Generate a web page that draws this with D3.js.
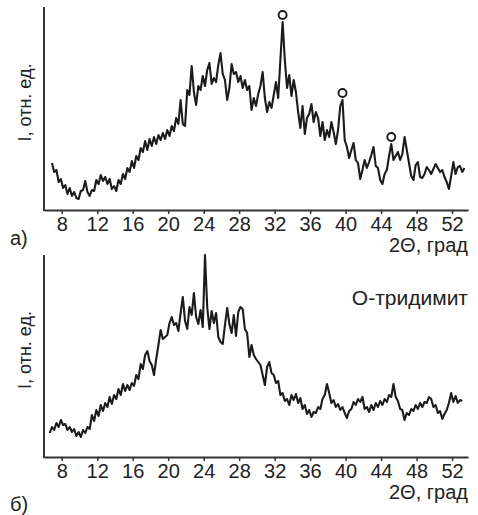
<!DOCTYPE html>
<html>
<head>
<meta charset="utf-8">
<script src="https://cdn.jsdelivr.net/npm/d3@7"></script>
<style>
    body { margin: 0; background: #fff; }
    svg text { font-family: "Liberation Sans", Arial, sans-serif; fill: #222; }
</style>
</head>
<body>
<div class="chart"></div>
<script>
// XRD patterns, step 0.25 deg 2Theta, intensity in arbitrary units
var step = 0.25;
var startA = 6.9, startB = 6.65;

var intensityA = [
    47, 38, 40, 28, 31, 22, 25, 16, 22, 14, 18, 12,
    11, 19, 20, 29, 18, 14, 20, 19, 30, 26, 35, 29,
    33, 26, 31, 21, 24, 19, 30, 26, 36, 31, 42, 38,
    49, 42, 54, 50, 62, 58, 69, 60, 71, 64, 73, 66,
    75, 70, 77, 71, 80, 74, 84, 79, 92, 86, 110, 86,
    84, 120, 115, 144, 118, 105, 124, 120, 134, 124, 140, 147,
    126, 132, 128, 145, 157, 136, 130, 110, 122, 146, 136, 138,
    128, 134, 122, 130, 120, 124, 100, 112, 104, 116, 124, 138,
    112, 98, 108, 102, 115, 128, 112, 150, 188, 150, 122, 135,
    114, 130, 118, 98, 82, 104, 76, 92, 96, 106, 88, 98,
    92, 74, 88, 70, 80, 73, 88, 78, 66, 80, 104, 110,
    70, 63, 52, 60, 67, 50, 47, 31, 40, 50, 42, 48,
    55, 63, 44, 42, 30, 26, 36, 40, 54, 66, 50, 54,
    58, 50, 56, 73, 60, 47, 34, 30, 45, 48, 33, 32,
    36, 43, 40, 36, 41, 46, 42, 38, 40, 33, 28, 21,
    34, 48, 36, 43, 44, 38, 42
];

var intensityB = [
    24, 30, 27, 34, 30, 37, 32, 33, 27, 30, 25, 28,
    21, 25, 20, 27, 24, 30, 28, 42, 36, 47, 41, 52,
    46, 54, 50, 60, 53, 62, 58, 68, 62, 73, 66, 72,
    67, 74, 71, 82, 78, 93, 88, 102, 106, 96, 92, 82,
    98, 112, 127, 118, 120, 122, 134, 140, 132, 134, 126, 144,
    160, 136, 128, 150, 142, 164, 140, 133, 147, 130, 202, 150,
    128, 146, 134, 144, 120, 115, 113, 132, 149, 133, 124, 142,
    121, 145, 150, 148, 128, 124, 100, 112, 102, 98, 95, 92,
    82, 72, 90, 95, 84, 82, 74, 76, 62, 64, 56, 58,
    52, 62, 57, 63, 54, 59, 48, 52, 43, 47, 40, 45,
    44, 50, 48, 58, 62, 73, 64, 54, 57, 50, 53, 47,
    50, 44, 39, 46, 48, 55, 52, 58, 55, 60, 48, 50,
    45, 52, 47, 54, 50, 56, 52, 58, 55, 62, 60, 73,
    60, 56, 48, 47, 37, 44, 42, 48, 46, 52, 48, 54,
    50, 55, 54, 60, 58, 50, 52, 44, 46, 38, 43, 47,
    54, 64, 55, 61, 54, 57, 56
];

// tridymite reflections marked with circles on pattern a)
var markerAngles = [32.9, 39.65, 45.15];

var xTicks = [8, 12, 16, 20, 24, 28, 32, 36, 40, 44, 48, 52];
var xTitle = "2\u0398, град";
var yTitle = "I, отн. ед.";
var legendText = "О-тридимит";

var w = 478, h = 515;

var svg = d3.select('.chart').append('svg')
    .attr('width', w)
    .attr('height', h);

var x = d3.scaleLinear().domain([6, 53.8]).range([44, 468]);

function toPoints(start, values) {
    return values.map(function (v, i) {
        return {a: start + i * step, v: v};
    });
}

function drawPanel(top, bottom, start, values, letter, letterY) {
    var y = d3.scaleLinear().domain([0, bottom - top]).range([bottom, top]);
    var g = svg.append('g');
    var pts = toPoints(start, values);

    // x axis
    var ax = g.append('g')
        .attr('transform', 'translate(0,' + bottom + ')')
        .call(d3.axisBottom(x).tickValues(xTicks).tickSize(4).tickSizeOuter(0).tickPadding(3));
    ax.select('.domain').attr('stroke', '#333').attr('stroke-width', 2);
    ax.selectAll('.tick line').attr('stroke', '#333').attr('stroke-width', 1.5);
    ax.selectAll('.tick text').style('font-size', '20px').attr('fill', '#222');

    // y axis, just a line
    g.append('line')
        .attr('x1', 44).attr('x2', 44)
        .attr('y1', top).attr('y2', bottom + 1)
        .attr('stroke', '#333')
        .attr('stroke-width', 2);

    g.append('text')
        .attr('transform', 'translate(31,' + (top + (bottom - top) / 2 - 6) + ') rotate(-90)')
        .attr('text-anchor', 'middle')
        .style('font-size', '18px')
        .text(yTitle);

    g.append('text')
        .attr('x', 468)
        .attr('y', bottom + 42)
        .attr('text-anchor', 'end')
        .style('font-size', '20px')
        .text(xTitle);

    g.append('text')
        .attr('x', 10)
        .attr('y', letterY)
        .style('font-size', '20px')
        .text(letter);

    var line = d3.line()
        .x(function (d) { return x(d.a); })
        .y(function (d) { return y(d.v); });

    g.append('path')
        .datum(pts)
        .attr('d', line)
        .attr('fill', 'none')
        .attr('stroke', '#1b1b1b')
        .attr('stroke-width', 2.1)
        .attr('stroke-linejoin', 'round');

    return {g: g, y: y, pts: pts};
}

var pa = drawPanel(7, 210, startA, intensityA, 'а)', 245);
var pb = drawPanel(255, 457, startB, intensityB, 'б)', 511);

// circles above the peaks
pa.g.selectAll('circle.mark')
    .data(markerAngles)
    .enter()
    .append('circle')
    .attr('class', 'mark')
    .attr('cx', function (d) { return x(d); })
    .attr('cy', function (d) {
        var p = pa.pts.reduce(function (best, q) {
            return Math.abs(q.a - d) < Math.abs(best.a - d) ? q : best;
        });
        return pa.y(p.v) - 7;
    })
    .attr('r', 4)
    .attr('fill', '#fff')
    .attr('stroke', '#1b1b1b')
    .attr('stroke-width', 1.9);

pb.g.append('text')
    .attr('x', 468)
    .attr('y', 305)
    .attr('text-anchor', 'end')
    .style('font-size', '21px')
    .text(legendText);
</script>
</body>
</html>
